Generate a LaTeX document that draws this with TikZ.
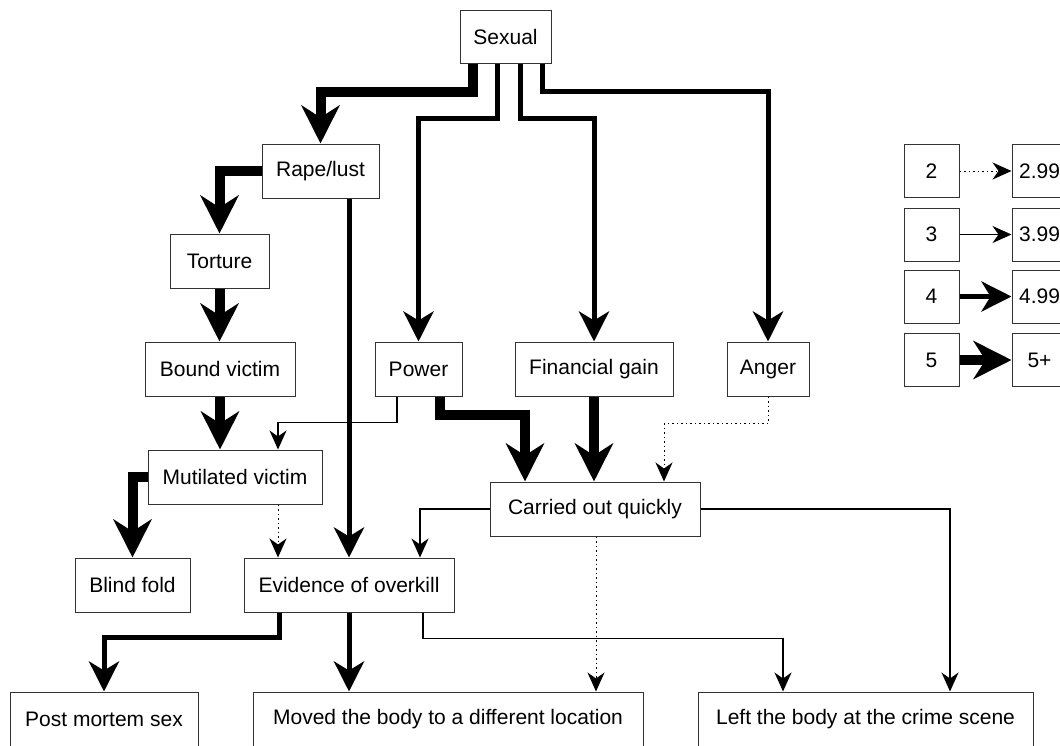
\documentclass[tikz,border=0pt]{standalone}
\usepackage{fontspec}
\setmainfont{Liberation Sans}
\usetikzlibrary{arrows.meta}

\begin{document}
\begin{tikzpicture}[x=1pt,y=-1pt,
    box/.style={draw=black!80,line width=1pt,fill=white,inner sep=0pt,minimum height=54pt,font=\fontsize{21}{25}\selectfont},
    lvltwo/.style={line width=1pt,dash pattern=on 1.5pt off 3pt,-{Stealth[length=19pt,width=17pt,inset=6pt]}},
    lvlthree/.style={line width=1.3pt,-{Stealth[length=19pt,width=17pt,inset=6pt]}},
    lvlfour/.style={line width=5pt,-{Stealth[length=30pt,width=30pt,inset=9pt]}},
    lvlfive/.style={line width=10pt,-{Stealth[length=38pt,width=38pt,inset=12pt]}}]
            \useasboundingbox (0,0) rectangle (1060,745);
            % Motivo
            \node[box,minimum width=91pt,minimum height=53pt] (sexual) at (505.5,36.5) {Sexual};
            \node[box,minimum width=117pt] (rape) at (320.5,171) {Rape/lust};
            \node[box,minimum width=99pt] (torture) at (219.5,261) {Torture};
            \node[box,minimum width=150pt] (bound) at (220,369) {Bound victim};
            \node[box,minimum width=87pt] (power) at (418.5,369) {Power};
            \node[box,minimum width=158pt] (financial) at (594,369) {Financial gain};
            \node[box,minimum width=82pt] (anger) at (768,369) {Anger};
            \node[box,minimum width=174pt] (mutilated) at (235,477) {Mutilated victim};
            \node[box,minimum width=210pt] (carried) at (595,509) {Carried out quickly};
            \node[box,minimum width=115pt] (blind) at (132.5,585) {Blind fold};
            \node[box,minimum width=210pt] (overkill) at (349,585) {Evidence of overkill};
            \node[box,minimum width=188pt] (postmortem) at (104,719) {Post mortem sex};
            \node[box,minimum width=390pt] (moved) at (448,719) {Moved the body to a different location};
            \node[box,minimum width=335pt] (left) at (865.5,719) {Left the body at the crime scene};
            % Leyenda
            \node[box,minimum width=55pt,minimum height=53pt] (ltwo) at (931.5,171) {2};
            \node[box,minimum width=55pt,minimum height=53pt] (vtwo) at (1039.5,171) {2.99};
            \node[box,minimum width=55pt,minimum height=53pt] (lthree) at (931.5,234.5) {3};
            \node[box,minimum width=55pt,minimum height=53pt] (vthree) at (1039.5,234.5) {3.99};
            \node[box,minimum width=55pt,minimum height=53pt] (lfour) at (931.5,296.5) {4};
            \node[box,minimum width=55pt,minimum height=53pt] (vfour) at (1039.5,296.5) {4.99};
            \node[box,minimum width=55pt,minimum height=53pt] (lfive) at (931.5,360) {5};
            \node[box,minimum width=55pt,minimum height=53pt] (vfive) at (1039.5,360) {5+};
            \draw[lvltwo] (ltwo) -- (vtwo);
            \draw[lvlthree] (lthree) -- (vthree);
            \draw[lvlfour] (lfour) -- (vfour);
            \draw[lvlfive] (lfive) -- (vfive);
            % Desde Sexual
            \draw[lvlfive] ([xshift=-32.5pt]sexual.south) -- ++(0,28) -| (rape.north);
            \draw[lvlfour] ([xshift=-8.5pt]sexual.south) -- ++(0,55) -| (power.north);
            \draw[lvlfour] ([xshift=14.5pt]sexual.south) -- ++(0,55) -| (financial.north);
            \draw[lvlfour] ([xshift=36.5pt]sexual.south) -- ++(0,28) -| (anger.north);
            % Rama izquierda
            \draw[lvlfive] (rape.west) -| (torture.north);
            \draw[lvlfour] (rape.south -| overkill.north) -- (overkill.north);
            \draw[lvlfive] (torture.south) -- (torture.south |- bound.north);
            \draw[lvlfive] (bound.south) -- (bound.south |- mutilated.north);
            \draw[lvlfive] (mutilated.west) -| (blind.north);
            \draw[lvltwo] ([xshift=43pt]mutilated.south) -- ([xshift=43pt]mutilated.south |- overkill.north);
            % Hacia Carried out quickly
            \draw[lvlthree] ([xshift=-21.5pt]power.south) -- ++(0,26) -| ([xshift=43pt]mutilated.north);
            \draw[lvlfive] ([xshift=21.5pt]power.south) -- ++(0,18) -| ([xshift=-70pt]carried.north);
            \draw[lvlfive] (financial.south) -- (financial.south |- carried.north);
            \draw[lvltwo] (anger.south) -- ++(0,27) -| ([xshift=69pt]carried.north);
            % Desde Carried out quickly
            \draw[lvlthree] (carried.west) -| ([xshift=71pt]overkill.north);
            \draw[lvlthree] (carried.east) -| ([xshift=84.5pt]left.north);
            \draw[lvltwo] ([xshift=1pt]carried.south) -- ([xshift=1pt]carried.south |- moved.north);
            % Desde Evidence of overkill
            \draw[lvlfour] ([xshift=-70pt]overkill.south) -- ++(0,25) -| (postmortem.north);
            \draw[lvlfour] (overkill.south) -- (overkill.south |- moved.north);
            \draw[lvlthree] ([xshift=74pt]overkill.south) -- ++(0,26) -| ([xshift=-82.5pt]left.north);
\end{tikzpicture}
\end{document}
